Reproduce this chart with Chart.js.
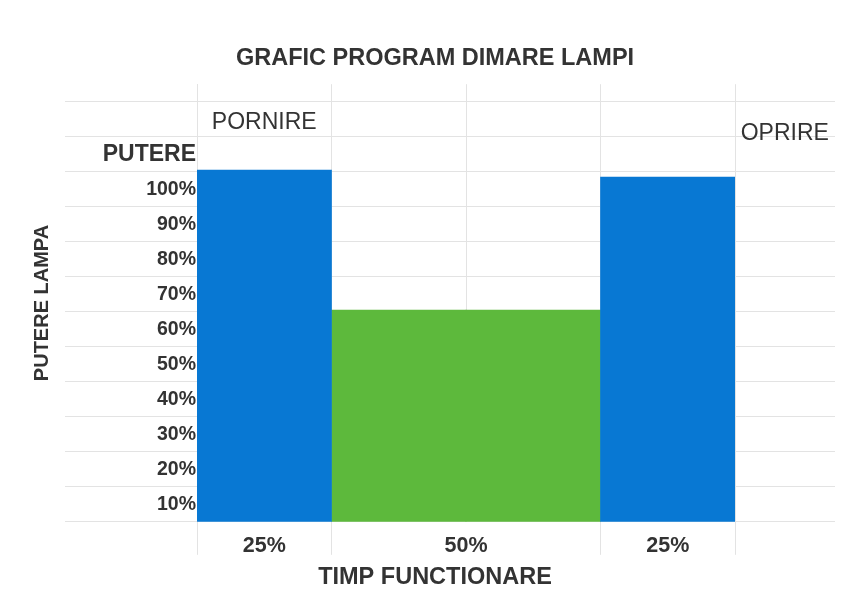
<!DOCTYPE html>
<html>
<head>
<meta charset="utf-8">
<title>Grafic program dimare lampi</title>
<script src="https://cdn.jsdelivr.net/npm/chart.js@4.4.1/dist/chart.umd.min.js"></script>
<style>
  html, body { margin: 0; padding: 0; background: #fff; }
  #wrap { width: 841px; height: 593px; position: relative; }
</style>
</head>
<body>
<div id="wrap"><canvas id="chart"></canvas></div>
<script>
// date
const slots = ['T1', 'T2', 'T3', 'T4'];          // 4 felii egale de timp (25% fiecare)
const fullPower = [105.5, null, null, 103.5];     // pornire / oprire (albastru)
const dimPower = [null, 65.5, 65.5, null];        // regim dimat (verde), 50% din timp
const timeLabels = ['25%', '50%', '25%'];
const timePos = [0, 1.5, 3];
const powerLabels = ['10%', '20%', '30%', '40%', '50%', '60%', '70%', '80%', '90%', '100%', 'PUTERE'];

const gridCol = '#e3e3e3';
const textCol = '#333333';
const fontFam = '"Liberation Sans", Arial, sans-serif';

function oddRow(ctx) {
  return ctx.tick && Math.round(ctx.tick.value) % 10 === 5;
}

// etichete PORNIRE / OPRIRE puse prin scale
const notesPlugin = {
  id: 'notes',
  afterDraw(chart, args, opts) {
    const xs = chart.scales.xt, ys = chart.scales.y, c = chart.ctx;
    c.save();
    c.font = '23px ' + fontFam;
    c.fillStyle = textCol;
    c.textAlign = 'center';
    c.textBaseline = 'middle';
    opts.items.forEach(n => {
      c.fillText(n.text, xs.getPixelForValue(n.x), ys.getPixelForValue(n.y));
    });
    c.restore();
  }
};

new Chart(document.getElementById('chart'), {
  type: 'bar',
  data: {
    labels: slots,
    datasets: [
      { data: fullPower, backgroundColor: '#0878d3', borderWidth: 0, grouped: false,
        barPercentage: 1, categoryPercentage: 1 },
      { data: dimPower, backgroundColor: '#5db93c', borderWidth: 0, grouped: false,
        barPercentage: 1, categoryPercentage: 1 }
    ]
  },
  plugins: [notesPlugin],
  options: {
    responsive: true,
    maintainAspectRatio: false,
    animation: false,
    layout: { padding: { left: 29, right: 0, top: 0, bottom: 0 } },
    plugins: {
      legend: { display: false },
      tooltip: { enabled: false },
      title: {
        display: true,
        text: 'GRAFIC PROGRAM DIMARE LAMPI',
        color: textCol,
        font: { family: fontFam, size: 23.5, weight: 'bold' },
        padding: { top: 44, bottom: 12 }
      },
      subtitle: {
        display: true,
        position: 'bottom',
        text: 'TIMP FUNCTIONARE',
        color: textCol,
        font: { family: fontFam, size: 23.5, weight: 'bold' },
        padding: { top: 0, bottom: 1 }
      },
      notes: {
        items: [
          { text: 'PORNIRE', x: 0, y: 119 },
          { text: 'OPRIRE', x: 3.87, y: 116 }
        ]
      }
    },
    scales: {
      x: {
        type: 'category',
        offset: true,
        weight: 0,
        ticks: { display: false },
        grid: {
          offset: true,
          color: gridCol,
          tickLength: 33,
          tickColor: ctx => ctx.index === 2 ? 'rgba(0,0,0,0)' : gridCol
        },
        border: { color: gridCol },
        afterFit: s => { s.height = 0; }
      },
      xt: {
        type: 'linear',
        position: 'bottom',
        weight: 1,
        offset: false,
        min: -0.5,
        max: 3.5,
        grid: { display: false, offset: false },
        border: { display: false },
        afterBuildTicks: s => { s.ticks = timePos.map(v => ({ value: v })); },
        ticks: {
          autoSkip: false,
          maxRotation: 0,
          padding: 3,
          color: textCol,
          font: { family: fontFam, size: 21.5, weight: 'bold' },
          callback: (v, i) => timeLabels[i]
        },
        afterFit: s => { s.height = 42; }
      },
      y: {
        type: 'linear',
        min: 5,
        max: 130,
        ticks: {
          stepSize: 5,
          autoSkip: false,
          padding: -131,
          color: textCol,
          font: ctx => ({ family: fontFam, size: ctx.tick && ctx.tick.value === 110 ? 23 : 19.5, weight: 'bold' }),
          callback: v => (v % 10 === 0 && v >= 10 && v <= 110) ? powerLabels[v / 10 - 1] : ''
        },
        grid: {
          color: ctx => oddRow(ctx) ? gridCol : 'rgba(0,0,0,0)',
          tickColor: ctx => oddRow(ctx) ? gridCol : 'rgba(0,0,0,0)',
          tickLength: 132
        },
        border: { color: gridCol },
        title: {
          display: true,
          text: 'PUTERE LAMPA',
          color: textCol,
          font: { family: fontFam, size: 20, weight: 'bold' },
          padding: { top: 1, bottom: 0 }
        },
        afterFit: s => { s.width = 168; }
      },
      yr: {
        type: 'linear',
        position: 'right',
        min: 5,
        max: 130,
        ticks: { display: false, stepSize: 5, autoSkip: false },
        grid: {
          drawOnChartArea: false,
          tickLength: 100,
          tickColor: ctx => oddRow(ctx) ? gridCol : 'rgba(0,0,0,0)'
        },
        border: { display: false },
        afterFit: s => { s.width = 106; }
      }
    }
  }
});
</script>
</body>
</html>
